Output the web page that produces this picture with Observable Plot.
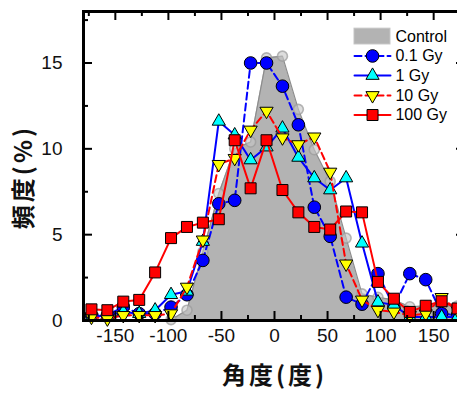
<!DOCTYPE html>
<html><head><meta charset="utf-8">
<script src="https://cdn.jsdelivr.net/npm/d3@7"></script>
<script src="https://cdn.jsdelivr.net/npm/@observablehq/plot@0.6"></script>
<style>
html,body{margin:0;padding:0;background:#fff;}
</style></head><body><div id="chart"></div>
<script>
// ---- data ----
const angles = [-172.5,-157.5,-142.5,-127.5,-112.5,-97.5,-82.5,-67.5,-52.5,-37.5,-22.5,-7.5,
                7.5,22.5,37.5,52.5,67.5,82.5,97.5,112.5,127.5,142.5,157.5,172.5];
const control = [0,0,0,0,0,0.05,0.6,4.0,7.4,10.0,10.4,15.3,15.4,12.3,9.95,8.1,4.8,1.55,1.35,1.2,0.8,0.85,0.85,0.85];
const gy01  = [0.3,0.3,0.8,0.4,0.4,0.78,1.5,3.5,6.8,7.0,15.0,15.0,13.65,11.4,6.6,4.9,1.36,0.95,2.73,0.8,2.73,2.38,0.4,0.3];
const gy1   = [0.2,0.3,0.5,0.4,0.6,1.5,1.7,4.6,11.6,10.8,9.35,10.1,11.2,9.5,8.3,7.6,8.3,4.5,1.07,0.9,0.2,0.2,0.2,0.2];
const gy10  = [0.2,0.1,0.3,0.3,0.3,0.4,1.95,4.7,9.1,9.45,11.1,12.2,10.65,10.25,10.7,8.65,3.3,1.2,0.6,0.5,0.3,0.4,1.35,0.6];
const gy100 = [0.65,0.6,1.1,1.2,2.8,4.8,5.45,5.7,5.9,10.5,7.7,10.5,7.6,6.3,5.45,5.3,6.35,6.3,2.25,1.27,0.5,0.86,1.12,0.7];
const seriesNames = ["Control","0.1 Gy","1 Gy","10 Gy","100 Gy"];
const xTickLabels = [-150,-100,-50,0,50,100,150];
const xMinorTicks = [-175,-125,-75,-25,25,75,125,175];
const yTickLabels = [0,5,10,15];
const yMinorTicks = [2.5,7.5,12.5,17.5];
const xTitle = "角度(度)";
const yTitle = "頻度(%)";

// ---- styles ----
const triDown = {draw(ctx, size){const s=Math.sqrt(size*4/Math.sqrt(3));const h=s*Math.sqrt(3)/2;ctx.moveTo(0,2*h/3);ctx.lineTo(-s/2,-h/3);ctx.lineTo(s/2,-h/3);ctx.closePath();}};
const triUp = {draw(ctx, size){const s=Math.sqrt(size*4/Math.sqrt(3));const h=s*Math.sqrt(3)/2;ctx.moveTo(0,-2*h/3);ctx.lineTo(-s/2,h/3);ctx.lineTo(s/2,h/3);ctx.closePath();}};
const styles = [
  {values: gy01,  stroke:"#0000ff", dash:"7,4", fill:"#0000ff", symbol:"circle", r:6.3},
  {values: gy1,   stroke:"#0000ff", dash:null,  fill:"#00ffff", symbol:triUp,   r:4.9},
  {values: gy10,  stroke:"#ff0000", dash:"7,4", fill:"#ffff00", symbol:triDown, r:4.9},
  {values: gy100, stroke:"#ff0000", dash:null,  fill:"#ff0000", symbol:"square",r:6.2}
];
const table = vals => angles.map((a,i)=>({angle:a, value:vals[i]}));
const ctrl = table(control);

// legend layout (in data units)
const legY = [16.54, 15.41, 14.27, 13.11, 11.97];
const legX0 = 75.4, legX1 = 109.3, legXm = 92.4, legXt = 114;

const innerH = 396-11-76, innerW = 457-83+8;
const font = "Liberation Sans, Arial, sans-serif";
const cjk = "Noto Sans CJK JP, Noto Sans CJK SC, sans-serif";

const marks = [
  Plot.areaY(ctrl, {x:"angle", y:"value", fill:"#b3b3b3"}),
  Plot.line(ctrl, {x:"angle", y:"value", stroke:"#8c8c8c", strokeWidth:1.2}),
  Plot.dot(ctrl.filter(d => d.value > 0), {x:"angle", y:"value", r:5, fill:"#c6c6c6", stroke:"#9a9a9a", strokeWidth:1.6, fillOpacity:0.6, strokeOpacity:0.7})
];
for (const s of styles) {
  const d = table(s.values);
  marks.push(Plot.line(d, {x:"angle", y:"value", stroke:s.stroke, strokeWidth:2, strokeDasharray:s.dash}));
  marks.push(Plot.dot(d, {x:"angle", y:"value", symbol:s.symbol, r:s.r, fill:s.fill, stroke:"black", strokeWidth:1}));
}
// legend
marks.push(Plot.rect([0], {x1:legX0, x2:legX1, y1:legY[0]-0.46, y2:legY[0]+0.46, fill:"#b3b3b3", stroke:"#c4c4c4"}));
styles.forEach((s,i)=>{
  const y = legY[i+1];
  marks.push(Plot.line([[legX0,y],[legX1,y]], {stroke:s.stroke, strokeWidth:2, strokeDasharray:s.dash}));
  marks.push(Plot.dot([[legXm,y]], {symbol:s.symbol, r:s.r, fill:s.fill, stroke:"black", strokeWidth:1}));
});
marks.push(Plot.text(seriesNames, {x:()=>legXt, y:(d,i)=>legY[i], text:d=>d, textAnchor:"start", fontSize:16, fill:"black", fontFamily:font}));

// frame & ticks (inward)
marks.push(Plot.frame({stroke:"black", strokeWidth:3}));
marks.push(Plot.tickX(xTickLabels, {x:d=>d, insetTop:innerH-9, stroke:"black", strokeWidth:2}));
marks.push(Plot.tickX(xMinorTicks, {x:d=>d, insetTop:innerH-5, stroke:"black", strokeWidth:2}));
marks.push(Plot.tickX(xTickLabels, {x:d=>d, insetBottom:innerH-9, stroke:"black", strokeWidth:2}));
marks.push(Plot.tickX(xMinorTicks, {x:d=>d, insetBottom:innerH-5, stroke:"black", strokeWidth:2}));
marks.push(Plot.tickY(yTickLabels, {y:d=>d, insetRight:innerW-9, stroke:"black", strokeWidth:2}));
marks.push(Plot.tickY(yMinorTicks, {y:d=>d, insetRight:innerW-5, stroke:"black", strokeWidth:2}));
marks.push(Plot.tickY(yTickLabels, {y:d=>d, insetLeft:innerW-9, stroke:"black", strokeWidth:2}));
marks.push(Plot.tickY(yMinorTicks, {y:d=>d, insetLeft:innerW-5, stroke:"black", strokeWidth:2}));
// tick labels
marks.push(Plot.text(xTickLabels, {x:d=>d, frameAnchor:"bottom", dy:21, text:d=>String(d), fontSize:19, fill:"#111", fontFamily:font}));
marks.push(Plot.text(yTickLabels, {y:d=>d, frameAnchor:"left", dx:-21, textAnchor:"end", text:d=>String(d), fontSize:19, fill:"#111", fontFamily:font}));
// titles
marks.push(Plot.text([xTitle], {frameAnchor:"bottom", dx:0, dy:63, textAnchor:"middle", text:d=>d, fontSize:24, fontWeight:"bold", fill:"#111", fontFamily:cjk}));
marks.push(Plot.text([yTitle], {frameAnchor:"left", dx:-59, dy:11, textAnchor:"middle", rotate:-90, text:d=>d, fontSize:24, fontWeight:"bold", fill:"#111", fontFamily:cjk}));

const chart = Plot.plot({
  width:457, height:396,
  marginLeft:83, marginRight:-8, marginTop:11, marginBottom:76,
  x:{domain:[-180,180], axis:null},
  y:{domain:[0,18], axis:null},
  style:{background:"white", fontFamily:font, overflow:"hidden"},
  marks
});
chart.querySelectorAll("text").forEach(t => {
  if (t.textContent === xTitle || t.textContent === yTitle) t.setAttribute("letter-spacing", "3");
});
document.getElementById("chart").appendChild(chart);
</script>
</body></html>
